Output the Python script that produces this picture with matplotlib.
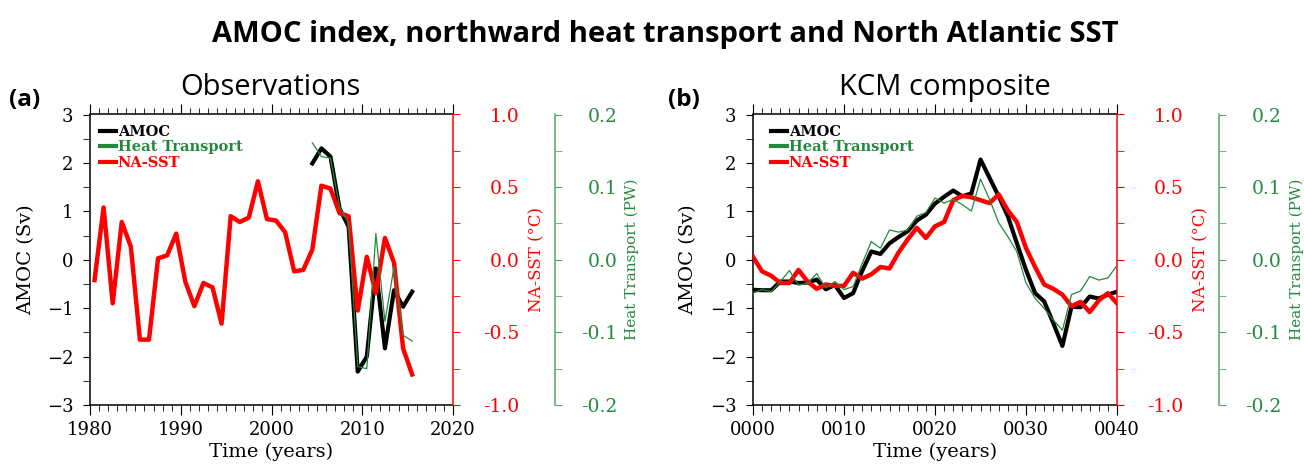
import numpy as np
import matplotlib.pyplot as plt
from matplotlib.ticker import MultipleLocator, FormatStrFormatter

# (a) observations, annual means
obs_years = np.arange(1980, 2016)
obs_sst = [-0.14, 0.36, -0.30, 0.26, 0.09, -0.55, -0.55, 0.01, 0.03, 0.18,
           -0.15, -0.32, -0.16, -0.19, -0.44, 0.30, 0.26, 0.29, 0.54, 0.28,
           0.27, 0.19, -0.08, -0.07, 0.07, 0.51, 0.49, 0.32, 0.30, -0.35,
           0.02, -0.23, 0.15, -0.02, -0.61, -0.79]
rapid_years = np.arange(2004, 2016)
obs_amoc = [1.99, 2.30, 2.13, 1.06, 0.68, -2.31, -2.00, -0.18, -1.83, -0.63, -0.97, -0.66]
obs_ht = [0.161, 0.142, 0.140, 0.073, 0.050, -0.147, -0.150, 0.036, -0.085, -0.010, -0.104, -0.112]

# (b) KCM composite
kcm_years = np.arange(0, 41)
kcm_amoc = [-0.62, -0.63, -0.63, -0.45, -0.45, -0.48, -0.47, -0.41, -0.61, -0.52,
            -0.79, -0.69, -0.23, 0.17, 0.12, 0.34, 0.47, 0.59, 0.81, 0.93,
            1.16, 1.30, 1.43, 1.31, 1.37, 2.07, 1.69, 1.31, 0.90, 0.34,
            -0.21, -0.69, -0.86, -1.31, -1.78, -0.97, -0.98, -0.76, -0.80, -0.72,
            -0.66]
kcm_sst = [0.02, -0.08, -0.11, -0.16, -0.16, -0.07, -0.15, -0.20, -0.17, -0.18,
           -0.18, -0.09, -0.13, -0.10, -0.05, -0.06, 0.05, 0.14, 0.22, 0.15,
           0.23, 0.26, 0.41, 0.44, 0.43, 0.41, 0.39, 0.45, 0.34, 0.26,
           0.08, -0.05, -0.17, -0.20, -0.24, -0.32, -0.29, -0.36, -0.28, -0.23,
           -0.30]
kcm_ht = [-0.046, -0.041, -0.044, -0.030, -0.015, -0.035, -0.032, -0.019, -0.039, -0.030,
          -0.041, -0.037, -0.005, 0.025, 0.016, 0.041, 0.038, 0.041, 0.060, 0.065,
          0.085, 0.078, 0.083, 0.076, 0.067, 0.111, 0.083, 0.051, 0.032, 0.011,
          -0.032, -0.053, -0.067, -0.083, -0.097, -0.048, -0.043, -0.023, -0.028, -0.025,
          -0.008]

red = '#ff0000'
green = '#22893c'
green_ax = '#5a9f6c'

plt.rcParams['font.family'] = 'DejaVu Serif'
plt.rcParams['font.size'] = 12
plt.rcParams['axes.linewidth'] = 1.1

fig = plt.figure(figsize=(13.04, 4.65), dpi=100)


def panel(rect, t_amoc, amoc, t_ht, ht, t_sst, sst, xlim, xfmt, legx):
    ax = fig.add_axes(rect)
    ax.set_xlim(xlim)
    ax.set_ylim(-3, 3)
    la, = ax.plot(t_amoc, amoc, color='black', lw=3)
    ax.xaxis.set_major_locator(MultipleLocator(10))
    ax.xaxis.set_minor_locator(MultipleLocator(1))
    ax.xaxis.set_major_formatter(FormatStrFormatter(xfmt))
    ax.yaxis.set_major_locator(MultipleLocator(1))
    ax.yaxis.set_minor_locator(MultipleLocator(0.5))
    ax.tick_params(axis='x', which='both', direction='out', top=True, labelsize=13, pad=4)
    ax.tick_params(axis='x', which='major', length=7.5)
    ax.tick_params(axis='x', which='minor', length=4.5)
    ax.tick_params(axis='y', which='both', direction='out', length=5, right=False,
                   labelsize=13, pad=7)
    ax.spines['right'].set_visible(False)
    ax.set_ylabel('AMOC (Sv)', fontsize=14, va='center')
    ax.yaxis.set_label_coords(-0.177, 0.5)
    ax.set_xlabel('Time (years)', fontsize=14, va='center')
    ax.xaxis.set_label_coords(0.5, -0.162)

    # NA-SST on its own red axis
    axr = ax.twinx()
    axr.set_ylim(-1, 1)
    ls, = axr.plot(t_sst, sst, color=red, lw=3.2)
    axr.yaxis.set_major_locator(MultipleLocator(0.5))
    axr.yaxis.set_minor_locator(MultipleLocator(0.25))
    axr.yaxis.set_major_formatter(FormatStrFormatter('%.1f'))
    for s in ['left', 'top', 'bottom']:
        axr.spines[s].set_visible(False)
    axr.spines['right'].set_color(red)
    axr.tick_params(axis='y', which='both', colors=red, direction='out', length=5,
                    labelsize=13.5, pad=43)
    plt.setp(axr.get_yticklabels(), ha='right')
    axr.set_ylabel('NA-SST (°C)', color=red, fontsize=12, va='center')
    axr.yaxis.set_label_coords(1.231, 0.5)

    # heat transport, offset green axis
    axg = ax.twinx()
    axg.set_ylim(-0.2, 0.2)
    lh, = axg.plot(t_ht, ht, color=green, lw=0.9)
    axg.spines['right'].set_position(('axes', 1.28))
    axg.yaxis.set_major_locator(MultipleLocator(0.1))
    axg.yaxis.set_minor_locator(MultipleLocator(0.05))
    axg.yaxis.set_major_formatter(FormatStrFormatter('%.1f'))
    for s in ['left', 'top', 'bottom']:
        axg.spines[s].set_visible(False)
    axg.spines['right'].set_color(green_ax)
    axg.tick_params(axis='y', which='both', colors=green_ax, labelcolor=green,
                    direction='out', length=5, labelsize=13.5, pad=40)
    plt.setp(axg.get_yticklabels(), ha='right')
    axg.set_ylabel('Heat Transport (PW)', color=green, fontsize=11, va='center')
    axg.yaxis.set_label_coords(1.493, 0.5)

    leg = ax.legend([la, lh, ls], ['AMOC', 'Heat Transport', 'NA-SST'],
                    loc='upper left', bbox_to_anchor=(legx, 0.965), frameon=False,
                    handlelength=1.1, handletextpad=0.1, labelspacing=0.12,
                    borderpad=0, borderaxespad=0,
                    prop={'size': 10.5, 'weight': 'bold'},
                    labelcolor=['black', green, red])
    for h in leg.legend_handles:
        h.set_linewidth(3)
    return ax


panel([90 / 1304, 60 / 465, 363 / 1304, 290.5 / 465],
      rapid_years + 0.5, obs_amoc, rapid_years + 0.5, obs_ht, obs_years + 0.5, obs_sst,
      (1980, 2020), '%d', 0.028)
panel([753 / 1304, 60 / 465, 364 / 1304, 290.5 / 465],
      kcm_years, kcm_amoc, kcm_years, kcm_ht, kcm_years, kcm_sst,
      (0, 40), '%04d', 0.05)

fig.text(665 / 1304, 1 - 42 / 465, 'AMOC index, northward heat transport and North Atlantic SST',
         ha='center', va='baseline', fontsize=21, fontweight='bold', family='Open Sans')
fig.text(9 / 1304, 1 - 106 / 465, '(a)', fontsize=17.5, fontweight='bold', family='Open Sans')
fig.text(668 / 1304, 1 - 106 / 465, '(b)', fontsize=17.5, fontweight='bold', family='Open Sans')
fig.text(270 / 1304, 1 - 95 / 465, 'Observations', ha='center', fontsize=21, family='Open Sans')
fig.text(945 / 1304, 1 - 95 / 465, 'KCM composite', ha='center', fontsize=21, family='Open Sans')

fig.savefig('out.png', dpi=100)
